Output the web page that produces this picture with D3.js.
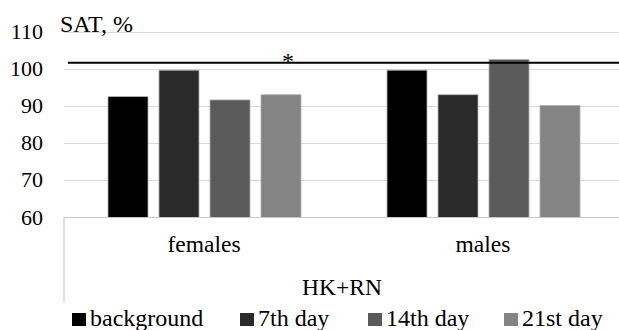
<!DOCTYPE html>
<html><head><meta charset="utf-8"><script src="https://cdn.jsdelivr.net/npm/d3@7"></script>
<style>
  svg text { font-family: "Times New Roman" !important; }
</style>
</head>
<body style="margin:0">
<script>
const width = 619, height = 330;

const groups = ["females", "males"];
const series = ["background", "7th day", "14th day", "21st day"];
const colors = ["#000000", "#2a2a2a", "#5a5a5a", "#848484"];
const females = [92.5, 99.6, 91.6, 93.0];
const males = [99.6, 93.0, 102.5, 90.1];
const yTicks = [60, 70, 80, 90, 100, 110];
const refValue = 101.6;

const values = [females, males];
const fontName = "Times New Roman";

var svg = d3.select("body").append("svg")
    .attr("width", width)
    .attr("height", height);

const plotLeft = 64, plotRight = 622, plotTop = 31.5, plotBottom = 217.5;

const y = d3.scaleLinear().domain([60, 110]).range([plotBottom, plotTop]);
const x0 = d3.scaleBand().domain(groups).range([plotLeft, plotRight]).paddingInner(0).paddingOuter(0);
const x1 = d3.scaleBand().domain(series).range([44, 44 + 193]).paddingInner(11/51).paddingOuter(0);

// gridlines
svg.append("g").selectAll("line")
    .data(yTicks.slice(1))
    .enter().append("line")
    .attr("x1", plotLeft).attr("x2", width)
    .attr("y1", d => Math.round(y(d)) + 0.5).attr("y2", d => Math.round(y(d)) + 0.5)
    .attr("stroke", "#d9d9d9").attr("stroke-width", 1.2);

// y tick labels
svg.append("g").selectAll("text")
    .data(yTicks)
    .enter().append("text")
    .attr("x", 43)
    .attr("y", d => y(d) + 7)
    .attr("text-anchor", "end")
    .attr("font-size", 22)
    .attr("font-family", fontName)
    .text(d => d);

// bars
var gr = svg.append("g").selectAll("g")
    .data(groups)
    .enter().append("g")
    .attr("transform", d => `translate(${x0(d)},0)`);

gr.selectAll("rect")
    .data((d, i) => values[i].map((v, j) => ({ s: series[j], v: v, c: colors[j] })))
    .enter().append("rect")
    .attr("x", d => x1(d.s))
    .attr("width", x1.bandwidth())
    .attr("y", d => y(d.v))
    .attr("height", d => plotBottom - y(d.v))
    .attr("fill", d => d.c)
    .attr("stroke", "#b0b0b0")
    .attr("stroke-width", 0.8);

// category axis
svg.append("line")
    .attr("x1", plotLeft).attr("x2", width)
    .attr("y1", plotBottom).attr("y2", plotBottom)
    .attr("stroke", "#c8c8c8").attr("stroke-width", 1.2);
svg.append("line")
    .attr("x1", plotLeft).attr("x2", plotLeft)
    .attr("y1", plotBottom).attr("y2", 302)
    .attr("stroke", "#c8c8c8").attr("stroke-width", 1.2);

svg.append("g").selectAll("text")
    .data(groups)
    .enter().append("text")
    .attr("x", d => x0(d) + 44 + 96)
    .attr("y", 252)
    .attr("text-anchor", "middle")
    .attr("font-size", 23.5)
    .attr("font-family", fontName)
    .text(d => d);

svg.append("text")
    .attr("x", 342).attr("y", 295)
    .attr("text-anchor", "middle")
    .attr("font-size", 23.5)
    .attr("font-family", fontName)
    .text("HK+RN");

// reference line and asterisk
svg.append("line")
    .attr("x1", 68).attr("x2", width)
    .attr("y1", y(refValue)).attr("y2", y(refValue))
    .attr("stroke", "#000").attr("stroke-width", 2);

svg.append("text")
    .attr("x", 288).attr("y", y(refValue) + 6)
    .attr("text-anchor", "middle")
    .attr("font-size", 24)
    .attr("font-family", fontName)
    .text("*");

// axis title
svg.append("text")
    .attr("x", 60).attr("y", 32)
    .attr("font-size", 24)
    .attr("font-family", fontName)
    .text("SAT, %");

// legend
const legendX = [72, 240, 368, 504];
var legend = svg.append("g").selectAll("g")
    .data(series)
    .enter().append("g")
    .attr("transform", (d, i) => `translate(${legendX[i]},0)`);

legend.append("rect")
    .attr("x", 0).attr("y", 313)
    .attr("width", 14).attr("height", 13)
    .attr("fill", (d, i) => colors[i]);

legend.append("text")
    .attr("x", 18).attr("y", 326)
    .attr("font-size", 24)
    .attr("font-family", fontName)
    .text(d => d);
</script></body></html>
